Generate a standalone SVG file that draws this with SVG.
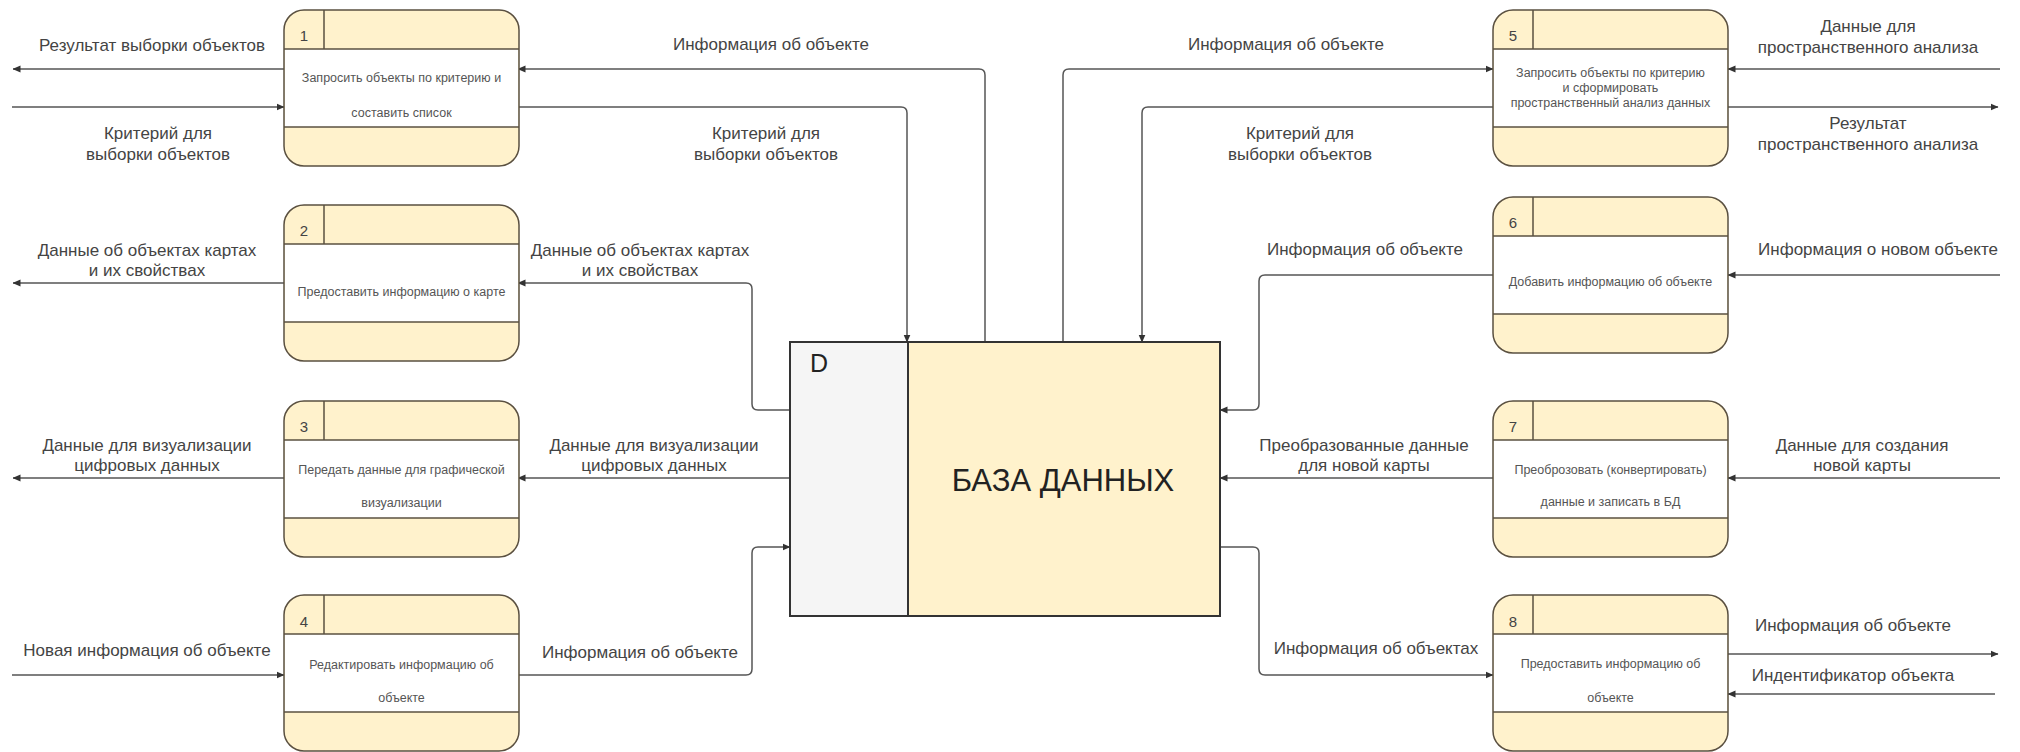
<svg xmlns="http://www.w3.org/2000/svg" width="2020" height="752" viewBox="0 0 2020 752">
<style>
.lbl{font-family:"Liberation Sans",Arial,sans-serif;font-size:17px;fill:#444;text-anchor:middle;dominant-baseline:central}
.ntx{font-family:"Liberation Sans",Arial,sans-serif;font-size:12.5px;fill:#555;text-anchor:middle;dominant-baseline:central}
.num{font-family:"Liberation Sans",Arial,sans-serif;font-size:15px;fill:#444;text-anchor:middle;dominant-baseline:central}
.conn{fill:none;stroke:#555;stroke-width:1.5}
.nodeBg{fill:#fff2cc;stroke:none}
.nodeMid{fill:#ffffff;stroke:none}
.nodeLine{stroke:#5a5040;stroke-width:1.5;fill:none}
.nodeOut{fill:none;stroke:#5a5040;stroke-width:1.5}
</style>
<defs>
<marker id="arr" viewBox="0 0 8 8" refX="7.5" refY="4" markerWidth="8" markerHeight="8" markerUnits="userSpaceOnUse" orient="auto">
<path d="M0,0.5 L8,4 L0,7.5 Z" fill="#333"/>
</marker>
<g id="proc">
<rect class="nodeBg" x="0" y="0" width="235" height="156" rx="20" ry="20"/>
<rect class="nodeMid" x="0.75" y="39" width="233.5" height="78"/>
<line class="nodeLine" x1="0" y1="39" x2="235" y2="39"/>
<line class="nodeLine" x1="0" y1="117" x2="235" y2="117"/>
<line class="nodeLine" x1="40" y1="0" x2="40" y2="39"/>
<rect class="nodeOut" x="0" y="0" width="235" height="156" rx="20" ry="20"/>
</g>
</defs>
<rect width="2020" height="752" fill="#ffffff"/>

<g id="connectors">
<path class="conn" d="M284,69 H13" marker-end="url(#arr)"/>
<path class="conn" d="M12,107 H284" marker-end="url(#arr)"/>
<path class="conn" d="M985,342 V75 Q985,69 979,69 H518" marker-end="url(#arr)"/>
<path class="conn" d="M518,107 H901 Q907,107 907,113 V342" marker-end="url(#arr)"/>
<path class="conn" d="M790,410 H758 Q752,410 752,404 V289 Q752,283 746,283 H518" marker-end="url(#arr)"/>
<path class="conn" d="M284,283 H13" marker-end="url(#arr)"/>
<path class="conn" d="M790,478 H518" marker-end="url(#arr)"/>
<path class="conn" d="M284,478 H13" marker-end="url(#arr)"/>
<path class="conn" d="M12,675 H284" marker-end="url(#arr)"/>
<path class="conn" d="M518,675 H746 Q752,675 752,669 V553 Q752,547 758,547 H790" marker-end="url(#arr)"/>

<path class="conn" d="M1063,342 V75 Q1063,69 1069,69 H1493" marker-end="url(#arr)"/>
<path class="conn" d="M1493,107 H1148 Q1142,107 1142,113 V342" marker-end="url(#arr)"/>
<path class="conn" d="M2000,69 H1728" marker-end="url(#arr)"/>
<path class="conn" d="M1728,107 H1998" marker-end="url(#arr)"/>
<path class="conn" d="M1493,275 H1265 Q1259,275 1259,281 V404 Q1259,410 1253,410 H1220" marker-end="url(#arr)"/>
<path class="conn" d="M2000,275 H1728" marker-end="url(#arr)"/>
<path class="conn" d="M1493,478 H1220" marker-end="url(#arr)"/>
<path class="conn" d="M2000,478 H1728" marker-end="url(#arr)"/>
<path class="conn" d="M1220,547 H1253 Q1259,547 1259,553 V669 Q1259,675 1265,675 H1493" marker-end="url(#arr)"/>
<path class="conn" d="M1728,654 H1998" marker-end="url(#arr)"/>
<path class="conn" d="M1995,694 H1728" marker-end="url(#arr)"/>

<text class="lbl" x="152" y="45">Результат выборки объектов</text>
<text class="lbl" x="158" y="133">Критерий для</text>
<text class="lbl" x="158" y="154">выборки объектов</text>
<text class="lbl" x="771" y="44">Информация об объекте</text>
<text class="lbl" x="766" y="133">Критерий для</text>
<text class="lbl" x="766" y="154">выборки объектов</text>
<text class="lbl" x="147" y="250">Данные об объектах картах</text>
<text class="lbl" x="147" y="270">и их свойствах</text>
<text class="lbl" x="640" y="250">Данные об объектах картах</text>
<text class="lbl" x="640" y="270">и их свойствах</text>
<text class="lbl" x="147" y="445">Данные для визуализации</text>
<text class="lbl" x="147" y="465">цифровых данных</text>
<text class="lbl" x="654" y="445">Данные для визуализации</text>
<text class="lbl" x="654" y="465">цифровых данных</text>
<text class="lbl" x="147" y="650">Новая информация об объекте</text>
<text class="lbl" x="640" y="652">Информация об объекте</text>

<text class="lbl" x="1286" y="44">Информация об объекте</text>
<text class="lbl" x="1300" y="133">Критерий для</text>
<text class="lbl" x="1300" y="154">выборки объектов</text>
<text class="lbl" x="1868" y="26">Данные для</text>
<text class="lbl" x="1868" y="47">пространственного анализа</text>
<text class="lbl" x="1868" y="123">Результат</text>
<text class="lbl" x="1868" y="144">пространственного анализа</text>
<text class="lbl" x="1365" y="249">Информация об объекте</text>
<text class="lbl" x="1878" y="249">Информация о новом объекте</text>
<text class="lbl" x="1364" y="445">Преобразованные данные</text>
<text class="lbl" x="1364" y="465">для новой карты</text>
<text class="lbl" x="1862" y="445">Данные для создания</text>
<text class="lbl" x="1862" y="465">новой карты</text>
<text class="lbl" x="1376" y="648">Информация об объектах</text>
<text class="lbl" x="1853" y="625">Информация об объекте</text>
<text class="lbl" x="1853" y="675">Индентификатор объекта</text>
</g>

<g id="node1">
<use href="#proc" x="284" y="10"/>
<text class="num" x="304" y="35">1</text>
<text class="ntx" x="401.5" y="78">Запросить объекты по критерию и</text>
<text class="ntx" x="401.5" y="113">составить список</text>
</g>
<g id="node2">
<use href="#proc" x="284" y="205"/>
<text class="num" x="304" y="230">2</text>
<text class="ntx" x="401.5" y="292">Предоставить информацию о карте</text>
</g>
<g id="node3">
<use href="#proc" x="284" y="401"/>
<text class="num" x="304" y="426">3</text>
<text class="ntx" x="401.5" y="470">Передать данные для графической</text>
<text class="ntx" x="401.5" y="503">визуализации</text>
</g>
<g id="node4">
<use href="#proc" x="284" y="595"/>
<text class="num" x="304" y="621">4</text>
<text class="ntx" x="401.5" y="665">Редактировать информацию об</text>
<text class="ntx" x="401.5" y="698">объекте</text>
</g>
<g id="node5">
<use href="#proc" x="1493" y="10"/>
<text class="num" x="1513" y="35">5</text>
<text class="ntx" x="1610.5" y="73">Запросить объекты по критерию</text>
<text class="ntx" x="1610.5" y="88">и сформировать</text>
<text class="ntx" x="1610.5" y="103">пространственный анализ данных</text>
</g>
<g id="node6">
<use href="#proc" x="1493" y="197"/>
<text class="num" x="1513" y="222">6</text>
<text class="ntx" x="1610.5" y="282">Добавить информацию об объекте</text>
</g>
<g id="node7">
<use href="#proc" x="1493" y="401"/>
<text class="num" x="1513" y="426">7</text>
<text class="ntx" x="1610.5" y="470">Преоброзовать (конвертировать)</text>
<text class="ntx" x="1610.5" y="502">данные и записать в БД</text>
</g>
<g id="node8">
<use href="#proc" x="1493" y="595"/>
<text class="num" x="1513" y="621">8</text>
<text class="ntx" x="1610.5" y="664">Предоставить информацию об</text>
<text class="ntx" x="1610.5" y="698">объекте</text>
</g>

<g id="database">
<rect x="790" y="342" width="118" height="274" fill="#f5f5f5"/>
<rect x="908" y="342" width="312" height="274" fill="#fff2cc"/>
<rect x="790" y="342" width="430" height="274" fill="none" stroke="#333" stroke-width="2"/>
<line x1="908" y1="342" x2="908" y2="616" stroke="#333" stroke-width="2"/>
<text x="819" y="363" font-family="'Liberation Sans',Arial,sans-serif" font-size="25" fill="#222" text-anchor="middle" dominant-baseline="central">D</text>
<text x="1063" y="480" font-family="'Liberation Sans',Arial,sans-serif" font-size="31" fill="#222" text-anchor="middle" dominant-baseline="central">БАЗА ДАННЫХ</text>
</g>
</svg>
